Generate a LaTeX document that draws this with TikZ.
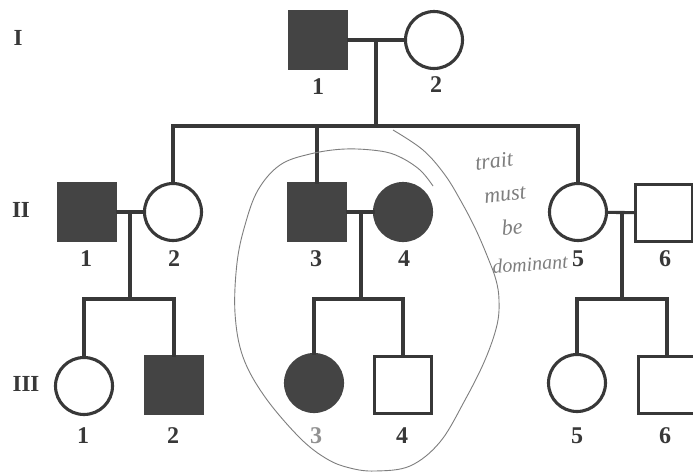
\documentclass[tikz,border=0pt]{standalone}
\usepackage{fontspec}
\setmainfont{Liberation Serif}
\definecolor{ink}{HTML}{383838}
\definecolor{fillk}{HTML}{444444}
\definecolor{pencil}{HTML}{7E7E7E}
\begin{document}
\begin{tikzpicture}[x=1pt,y=-1pt,
  person/.style={draw=ink, line width=3.1pt, inner sep=0pt, outer sep=0pt},
  male/.style={person, rectangle, minimum size=57pt},
  female/.style={person, circle, minimum size=57pt},
  aff/.style={fill=fillk, draw=fillk},
  num/.style={font=\bfseries\fontsize{24}{24}\selectfont, text=ink, inner sep=0pt},
  gen/.style={font=\bfseries\fontsize{23}{23}\selectfont, text=ink, inner sep=0pt},
  link/.style={draw=ink, line width=3.1pt},
  hand/.style={font=\itshape\fontsize{22}{22}\selectfont, text=pencil, inner sep=0pt},
  loop/.style={draw=pencil, line width=0.9pt}
]
\clip (0,0) rectangle (693,475);
\fill[white] (0,0) rectangle (693,475);

% generation labels
\node[gen] (gI) at (18,38) {I};
\node[gen] (gII) at (21,210) {II};
\node[gen] (gIII) at (26,384) {III};

% generation I
\node[male,aff] (I1) at (318,40) {};
\node[female] (I2) at (434,40) {};
\node[num] (lI1) at (318,87) {1};
\node[num] (lI2) at (436,85) {2};

% generation II
\node[male,aff] (II1) at (87,212) {};
\node[female] (II2) at (173,212) {};
\node[male,aff] (II3) at (317,212) {};
\node[female,aff] (II4) at (403,212) {};
\node[female] (II5) at (578,212) {};
\node[male] (II6) at (664,213) {};
\node[num] (lII1) at (86,259) {1};
\node[num] (lII2) at (174,259) {2};
\node[num] (lII3) at (316,259) {3};
\node[num] (lII4) at (404,259) {4};
\node[num] (lII5) at (578,259) {5};
\node[num] (lII6) at (665,259) {6};

% generation III
\node[female] (III1) at (84,386) {};
\node[male,aff] (III2) at (174,385) {};
\node[female,aff] (III3) at (314,383) {};
\node[male] (III4) at (403,385) {};
\node[female] (III5) at (577,383) {};
\node[male] (III6) at (667,385) {};
\node[num] (lIII1) at (83,436) {1};
\node[num] (lIII2) at (173,436) {2};
\node[num, text=pencil!85] (lIII3) at (316,436) {3};
\node[num] (lIII4) at (402,436) {4};
\node[num] (lIII5) at (577,436) {5};
\node[num] (lIII6) at (665,436) {6};

% couple / sibship points
\coordinate (mI) at (376,40);
\coordinate (sI) at (376,126);
\coordinate (m1) at (130,212);
\coordinate (s1) at (130,299);
\coordinate (m2) at (361,212);
\coordinate (s2) at (361,299);
\coordinate (m3) at (622,212);
\coordinate (s3) at (622,299);

% generation I family
\draw[link] (I1) -- (I2);
\draw[link] (mI) -- (sI);
\draw[link] (II2) |- (sI) -| (II5);
\draw[link] (II3) -- (II3 |- sI);

% II-1 x II-2
\draw[link] (II1) -- (II2);
\draw[link] (m1) -- (s1);
\draw[link] (III1) |- (s1) -| (III2);

% II-3 x II-4
\draw[link] (II3) -- (II4);
\draw[link] (m2) -- (s2);
\draw[link] (III3) |- (s2) -| (III4);

% II-5 x II-6
\draw[link] (II5) -- (II6);
\draw[link] (m3) -- (s3);
\draw[link] (III5) |- (s3) -| (III6);

% pencil loop
\draw[loop] plot[smooth, tension=0.6] coordinates {
 (433,186) (420,170) (400,157) (380,151) (345,149) (310,154) (280,165)
 (258,190) (245,225) (237,263) (235,313) (243,357) (265,397) (300,438)
 (327,459) (350,468) (375,471) (410,466) (440,442) (465,400) (485,360)
 (497,325) (499,300) (496,280) (488,258) (476,230) (462,203) (445,175)
 (423,150) (393,130)};

% pencil note
\node[hand, rotate=7] (t1) at (494,161) {trait};
\node[hand, rotate=7] (t2) at (505,195) {must};
\node[hand, rotate=5] (t3) at (512,227) {be};
\node[hand, rotate=4, font=\itshape\fontsize{20}{20}\selectfont] (t4) at (530,264) {dominant};
\end{tikzpicture}
\end{document}
